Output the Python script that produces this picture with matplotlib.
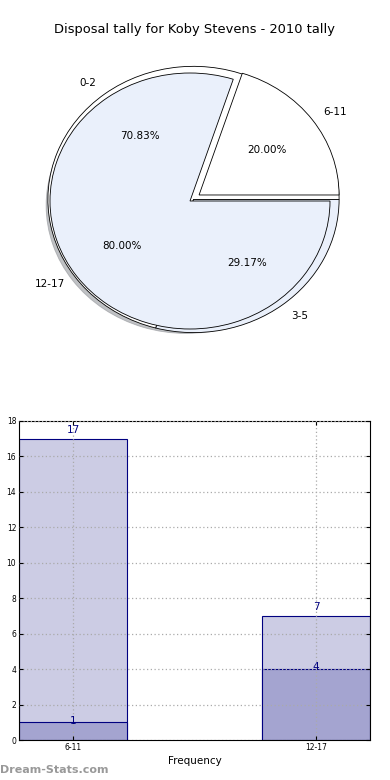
import matplotlib
matplotlib.use("Agg")
import matplotlib.pyplot as plt

title = "Disposal tally for Koby Stevens - 2010 tally"
pie1_labels = ["0-2", "3-5"]
pie1_values = [17, 7]
pie2_labels = ["6-11", "12-17"]
pie2_values = [1, 4]

bar_categories = ["6-11", "12-17"]
bar_totals = [17, 7]
bar_parts = [1, 4]

LIGHT_PIE = "#eaf0fb"
fig = plt.figure(figsize=(3.9, 7.8), dpi=100)

# Pie axes
ax1 = fig.add_axes([15 / 390, 1 - 361 / 780, 350 / 390, 320 / 780])
ax1.pie(pie1_values, labels=pie1_labels, autopct="%.2f%%", radius=1.04,
        center=(0.025, 0.012),
        colors=["white", LIGHT_PIE],
        wedgeprops=dict(edgecolor="black", linewidth=0.6),
        textprops=dict(fontsize=7.5))
ax1.pie(pie2_values, labels=pie2_labels, autopct="%.2f%%", explode=(0.08, 0),
        colors=["white", LIGHT_PIE],
        shadow=dict(ox=-0.02, oy=-0.025, shade=0.45),
        wedgeprops=dict(edgecolor="black", linewidth=0.6),
        textprops=dict(fontsize=7.5))
ax1.set_aspect("auto")
ax1.set_xlim(-1.25, 1.25)
ax1.set_ylim(-1.25, 1.25)
fig.text(0.5, 1 - 30 / 780, title, ha="center", va="center", fontsize=9.4)

# Bar axes
ax2 = fig.add_axes([19 / 390, 1 - 740 / 780, 351 / 390, 319 / 780])
w = 0.445
x = list(range(len(bar_categories)))
ax2.bar(x, bar_totals, width=w, color="#ccccE4", edgecolor="#000080", linewidth=0.8)
ax2.bar(x, bar_parts, width=w, color="#a4a4d0", edgecolor="#000080", linewidth=0.8)
for xi, v in zip(x, bar_totals):
    ax2.text(xi, v + 0.5, str(v), ha="center", va="center", fontsize=7.5, color="#000080")
for xi, v in zip(x, bar_parts):
    ax2.text(xi, v + 0.1, str(v), ha="center", va="center", fontsize=7.5, color="#000080")
ax2.set_xlim(-w / 2, 1 + w / 2)
ax2.set_ylim(0, 18)
ax2.set_yticks(range(0, 19, 2))
ax2.set_xticks(x)
ax2.set_xticklabels(bar_categories)
ax2.tick_params(labelsize=5.5, direction="in", top=True, right=True, length=3, pad=2)
ax2.grid(True, linestyle=(0, (1, 2)), color="#aaaaaa", linewidth=0.9)
ax2.set_axisbelow(False)
ax2.set_xlabel("Frequency", fontsize=7.5, labelpad=3)
fig.text(0.0, 1 - 770 / 780, "Dream-Stats.com", ha="left", va="center",
         fontsize=8, fontweight="bold", color="#999999")

fig.savefig("out.png", dpi=100)
